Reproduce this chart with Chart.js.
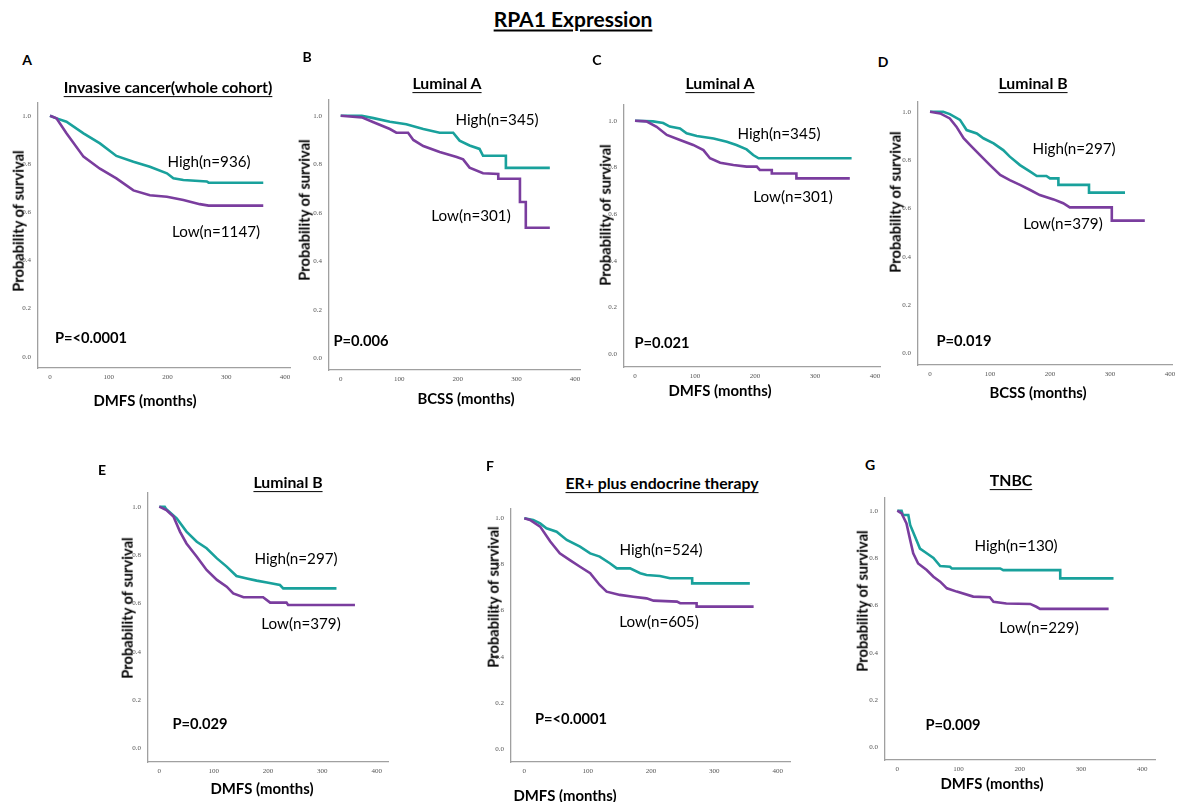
<!DOCTYPE html>
<html>
<head>
<meta charset="utf-8">
<script src="https://cdn.jsdelivr.net/npm/chart.js@4.4.1/dist/chart.umd.min.js"></script>
<style>
  html, body { margin: 0; padding: 0; background: #ffffff; }
  #stage { position: relative; width: 1177px; height: 802px; overflow: hidden; background: #fff; font-family: Lato, "Open Sans", sans-serif; color: #000; }
  canvas { position: absolute; }
  .t { position: absolute; white-space: nowrap; transform: translate(-50%, -50%); line-height: 1; }
  .main { font-weight: bold; font-size: 21px; text-decoration: underline; text-underline-offset: 3px; text-decoration-thickness: 2px; }
  .letter { font-weight: bold; font-size: 14px; }
  .ptitle { font-weight: bold; font-size: 15.8px; text-decoration: underline; text-underline-offset: 3px; }
  .grp { font-size: 15.2px; }
  .pval { font-weight: bold; font-size: 14.7px; }
  .ytitle { font-weight: bold; font-size: 14.7px; transform: translate(-50%, -50%) rotate(-90deg); }
  .xtitle { font-weight: bold; font-size: 14.9px; }
</style>
</head>
<body>
<div id="stage"></div>
<script>
// ---- tick values ----
const xTicks = [0, 100, 200, 300, 400];
const yTicks = [0.0, 0.2, 0.4, 0.6, 0.8, 1.0];

// ---- series values (months, survival probability) ----
const A_high_t = [0, 10, 28, 57, 85, 113, 142, 170, 199, 210, 227, 267, 270, 363];
const A_high_s = [1.0, 0.99, 0.975, 0.927, 0.885, 0.833, 0.809, 0.788, 0.761, 0.74, 0.733, 0.727, 0.722, 0.722];
const A_low_t  = [0, 11, 28, 57, 85, 113, 142, 170, 199, 227, 255, 270, 363];
const A_low_s  = [1.0, 0.989, 0.927, 0.83, 0.78, 0.74, 0.69, 0.67, 0.664, 0.65, 0.633, 0.627, 0.627];

const B_high_t = [0, 36, 56, 84, 112, 141, 169, 192, 203, 220, 237, 243, 282, 282, 357];
const B_high_s = [1.0, 1.0, 0.99, 0.975, 0.965, 0.945, 0.93, 0.93, 0.897, 0.877, 0.863, 0.835, 0.835, 0.785, 0.785];
const B_low_t  = [0, 36, 56, 84, 95, 115, 124, 141, 169, 198, 209, 220, 243, 269, 269, 306, 306, 316, 316, 357];
const B_low_s  = [1.0, 0.993, 0.973, 0.945, 0.93, 0.93, 0.9, 0.875, 0.85, 0.83, 0.82, 0.786, 0.763, 0.76, 0.74, 0.74, 0.644, 0.644, 0.538, 0.538];

const C_high_t = [0, 30, 47, 58, 75, 86, 103, 131, 153, 169, 186, 197, 206, 361];
const C_high_s = [1.0, 0.997, 0.99, 0.975, 0.967, 0.946, 0.934, 0.924, 0.91, 0.896, 0.877, 0.853, 0.839, 0.839];
const C_low_t  = [0, 19, 36, 53, 75, 97, 114, 125, 142, 164, 186, 203, 208, 228, 228, 269, 269, 358];
const C_low_s  = [1.0, 0.997, 0.974, 0.939, 0.917, 0.896, 0.874, 0.839, 0.82, 0.81, 0.803, 0.803, 0.789, 0.789, 0.774, 0.774, 0.753, 0.753];

const D_high_t = [0, 22, 33, 50, 61, 78, 89, 106, 122, 133, 150, 167, 178, 194, 200, 214, 214, 265, 265, 325];
const D_high_s = [1.0, 1.0, 0.99, 0.966, 0.924, 0.91, 0.89, 0.869, 0.841, 0.814, 0.779, 0.752, 0.734, 0.734, 0.724, 0.724, 0.697, 0.697, 0.665, 0.665];
const D_low_t  = [0, 17, 33, 44, 56, 67, 83, 100, 117, 133, 150, 167, 183, 206, 222, 233, 303, 303, 358];
const D_low_s  = [1.0, 0.993, 0.972, 0.938, 0.89, 0.862, 0.821, 0.779, 0.738, 0.717, 0.697, 0.676, 0.655, 0.637, 0.621, 0.604, 0.604, 0.549, 0.549];

const E_high_t = [0, 10, 13, 32, 50, 69, 87, 106, 124, 142, 161, 179, 198, 222, 228, 326];
const E_high_s = [1.0, 1.0, 0.989, 0.952, 0.897, 0.855, 0.828, 0.786, 0.752, 0.713, 0.703, 0.694, 0.686, 0.676, 0.662, 0.662];
const E_low_t  = [0, 13, 26, 38, 50, 69, 87, 106, 124, 136, 155, 191, 204, 234, 237, 360];
const E_low_s  = [1.0, 0.986, 0.959, 0.897, 0.848, 0.793, 0.738, 0.697, 0.669, 0.641, 0.625, 0.625, 0.603, 0.603, 0.593, 0.593];

const F_high_t = [0, 14, 25, 35, 51, 67, 88, 104, 119, 135, 146, 167, 183, 193, 214, 230, 265, 265, 356];
const F_high_s = [1.0, 0.993, 0.978, 0.957, 0.942, 0.906, 0.877, 0.848, 0.834, 0.805, 0.783, 0.783, 0.762, 0.754, 0.75, 0.74, 0.74, 0.718, 0.718];
const F_low_t  = [0, 9, 25, 41, 56, 72, 88, 104, 119, 130, 151, 172, 193, 204, 241, 246, 272, 272, 362];
const F_low_s  = [1.0, 0.993, 0.964, 0.899, 0.848, 0.819, 0.79, 0.762, 0.711, 0.682, 0.668, 0.66, 0.653, 0.643, 0.639, 0.632, 0.632, 0.617, 0.617];

const G_high_t = [0, 7, 9, 18, 21, 29, 37, 48, 59, 70, 86, 89, 168, 173, 266, 266, 353];
const G_high_s = [1.0, 1.0, 0.982, 0.982, 0.94, 0.89, 0.84, 0.82, 0.8, 0.766, 0.763, 0.756, 0.756, 0.749, 0.749, 0.714, 0.714];
const G_low_t  = [0, 7, 15, 21, 26, 34, 48, 59, 70, 81, 97, 124, 151, 157, 178, 217, 227, 233, 345];
const G_low_s  = [1.0, 0.989, 0.946, 0.876, 0.82, 0.777, 0.749, 0.721, 0.7, 0.672, 0.658, 0.637, 0.634, 0.615, 0.608, 0.606, 0.594, 0.585, 0.585];

// ---- labels ----
const mainTitle = "RPA1 Expression";
const panelLetters = ["A", "B", "C", "D", "E", "F", "G"];
const panelTitles = ["Invasive cancer(whole cohort)", "Luminal A", "Luminal A", "Luminal B", "Luminal B", "ER+ plus endocrine therapy", "TNBC"];
const highLabels = ["High(n=936)", "High(n=345)", "High(n=345)", "High(n=297)", "High(n=297)", "High(n=524)", "High(n=130)"];
const lowLabels = ["Low(n=1147)", "Low(n=301)", "Low(n=301)", "Low(n=379)", "Low(n=379)", "Low(n=605)", "Low(n=229)"];
const pValues = ["P=<0.0001", "P=0.006", "P=0.021", "P=0.019", "P=0.029", "P=<0.0001", "P=0.009"];
const xTitles = ["DMFS (months)", "BCSS (months)", "DMFS (months)", "BCSS (months)", "DMFS (months)", "DMFS (months)", "DMFS (months)"];
const yTitle = "Probability of survival";

const seriesHigh = [[A_high_t, A_high_s], [B_high_t, B_high_s], [C_high_t, C_high_s], [D_high_t, D_high_s], [E_high_t, E_high_s], [F_high_t, F_high_s], [G_high_t, G_high_s]];
const seriesLow  = [[A_low_t, A_low_s], [B_low_t, B_low_s], [C_low_t, C_low_s], [D_low_t, D_low_s], [E_low_t, E_low_s], [F_low_t, F_low_s], [G_low_t, G_low_s]];

// ---- layout (pixel positions of each panel) ----
// box: axis-line rectangle [L,T,R,B]; px: pixel of x=0, x=400, y=1.0, y=0.0
const layouts = [
  { box: [38, 103, 290, 368],  px: [50, 285, 115.7, 356.7],
    letter: [27, 60], title: [168, 87], high: [209, 162], low: [216, 232], p: [91, 337], yt: [18, 221], xt: [145, 400] },
  { box: [329, 100, 580, 370], px: [340.7, 575, 115.7, 358.3],
    letter: [307, 57], title: [447, 83], high: [497, 120], low: [471, 216], p: [361, 340], yt: [304, 210], xt: [466, 398] },
  { box: [624, 105, 880, 367], px: [635, 875, 120.7, 354],
    letter: [597, 60], title: [720, 83], high: [779, 134], low: [793, 197], p: [662, 342], yt: [605, 215], xt: [720, 390] },
  { box: [918, 102, 1172, 365], px: [930, 1170, 111.7, 353.3],
    letter: [883, 62], title: [1033, 83], high: [1074, 149], low: [1063, 224], p: [964, 340], yt: [895, 202], xt: [1038, 392] },
  { box: [148, 493, 388, 762], px: [159.3, 376.7, 506.7, 748.3],
    letter: [102, 470], title: [288, 482], high: [296, 559], low: [301, 624], p: [200, 723], yt: [127, 608], xt: [262, 788] },
  { box: [511, 509, 790, 762], px: [524.3, 777.7, 518.3, 749],
    letter: [490, 466], title: [662, 483], high: [661, 550], low: [659, 622], p: [571, 718], yt: [493, 597], xt: [565, 795] },
  { box: [885, 498, 1155, 760], px: [897.3, 1142.3, 510.7, 747.3],
    letter: [870, 465], title: [1011, 480], high: [1016, 546], low: [1039, 628], p: [953, 724], yt: [862, 601], xt: [992, 783] }
];

const TEAL = "#19a19c";
const PURPLE = "#7a3d9e";
const stage = document.getElementById("stage");

function addText(cls, txt, pos) {
  const d = document.createElement("div");
  d.className = "t " + cls;
  d.textContent = txt;
  d.style.left = pos[0] + "px";
  d.style.top = pos[1] + "px";
  stage.appendChild(d);
}

addText("main", mainTitle, [573, 18]);

const WY = 40, HX = 26, PAD = 12;

layouts.forEach((lay, i) => {
  const [L, T, R, B] = lay.box;
  const [x0, x400, y1, y0] = lay.px;
  const kx = (x400 - x0) / 400;
  const ky = (y0 - y1);
  const xmin = -(x0 - L) / kx, xmax = (R - x0) / kx;
  const ymax = 1 + (y1 - T) / ky, ymin = -(B - y0) / ky;

  const cv = document.createElement("canvas");
  const w = PAD + WY + (R - L) + PAD;
  const h = PAD + (B - T) + HX + PAD;
  cv.width = w; cv.height = h;
  cv.style.width = w + "px"; cv.style.height = h + "px";
  cv.style.left = (L - WY - PAD) + "px";
  cv.style.top = (T - PAD) + "px";
  stage.appendChild(cv);

  const mk = (pair) => pair[0].map((t, k) => ({ x: t, y: pair[1][k] }));

  new Chart(cv, {
    type: "line",
    data: {
      datasets: [
        { data: mk(seriesLow[i]), borderColor: PURPLE, borderWidth: 2.6, pointRadius: 0, tension: 0, fill: false },
        { data: mk(seriesHigh[i]), borderColor: TEAL, borderWidth: 2.6, pointRadius: 0, tension: 0, fill: false }
      ]
    },
    options: {
      responsive: false,
      animation: false,
      devicePixelRatio: 1,
      layout: { padding: PAD },
      plugins: { legend: { display: false }, tooltip: { enabled: false }, title: { display: false } },
      scales: {
        x: {
          type: "linear", min: xmin, max: xmax,
          grid: { display: false, drawTicks: false },
          border: { display: true, color: "#a0a0a0", width: 1.3 },
          afterBuildTicks: s => { s.ticks = xTicks.map(v => ({ value: v })); },
          afterFit: s => { s.height = HX; },
          ticks: { padding: 5, color: "#555", font: { family: "Liberation Serif", size: 7 }, maxRotation: 0, autoSkip: false,
                   callback: v => String(v) }
        },
        y: {
          type: "linear", min: ymin, max: ymax,
          grid: { display: false, drawTicks: false },
          border: { display: true, color: "#a0a0a0", width: 1.3 },
          afterBuildTicks: s => { s.ticks = yTicks.map(v => ({ value: v })); },
          afterFit: s => { s.width = WY; },
          ticks: { padding: 7, color: "#555", font: { family: "Liberation Serif", size: 7 }, autoSkip: false,
                   callback: v => Number(v).toFixed(1) }
        }
      }
    }
  });

  addText("letter", panelLetters[i], lay.letter);
  addText("ptitle", panelTitles[i], lay.title);
  addText("grp", highLabels[i], lay.high);
  addText("grp", lowLabels[i], lay.low);
  addText("pval", pValues[i], lay.p);
  addText("ytitle", yTitle, lay.yt);
  addText("xtitle", xTitles[i], lay.xt);
});
</script>
</body>
</html>
